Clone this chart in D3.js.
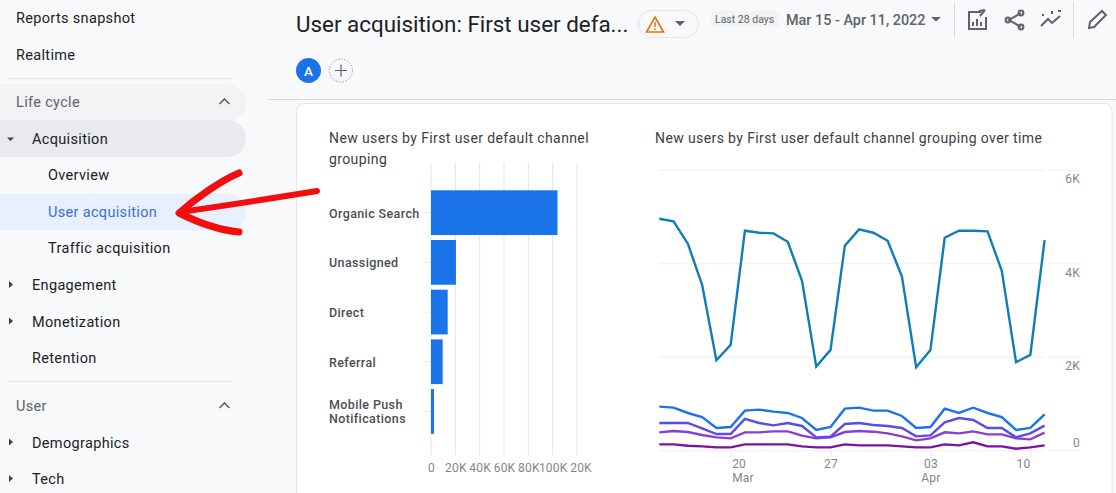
<!DOCTYPE html>
<html>
<head>
<meta charset="utf-8">
<script src="https://cdn.jsdelivr.net/npm/d3@7"></script>
<style>
  html, body { margin: 0; padding: 0; background: #f8f9fb; overflow: hidden; }
  svg { display: block; font-family: Roboto, sans-serif; }
  .nav { font-size: 14.5px; letter-spacing: 0.33px; fill: #202124; }
  .axis path { display: none; }
  .axis text { font-family: Roboto, sans-serif; font-size: 12px; fill: #80868b; letter-spacing: 0.2px; }
</style>
</head>
<body>
<svg id="chart" width="1116" height="493"></svg>
<script>
// BAR CHART DATA
var channels = ['Organic Search', 'Unassigned', 'Direct', 'Referral', 'Mobile Push Notifications'];
var newUsers = [104000, 20500, 13700, 9600, 2500];
var barTicks = [0, 20000, 40000, 60000, 80000, 100000, 120000];
var barTickLabels = ['0', '20K', '40K', '60K', '80K', '100K', '20K'];

// LINE CHART DATA
var days = ['Mar 15', 'Mar 16', 'Mar 17', 'Mar 18', 'Mar 19', 'Mar 20', 'Mar 21', 'Mar 22', 'Mar 23', 'Mar 24',
  'Mar 25', 'Mar 26', 'Mar 27', 'Mar 28', 'Mar 29', 'Mar 30', 'Mar 31', 'Apr 01', 'Apr 02', 'Apr 03',
  'Apr 04', 'Apr 05', 'Apr 06', 'Apr 07', 'Apr 08', 'Apr 09', 'Apr 10', 'Apr 11'];
var organicSearch = [4964, 4907, 4429, 3550, 1936, 2264, 4707, 4664, 4650, 4471, 3636, 1800, 2157, 4386, 4736, 4664, 4493, 3729, 1786, 2157, 4557, 4707, 4707, 4693, 3850, 1893, 2050, 4507];
var unassigned = [943, 921, 807, 721, 486, 507, 857, 879, 836, 807, 700, 443, 507, 900, 921, 857, 857, 743, 486, 507, 900, 807, 921, 807, 721, 443, 486, 779];
var direct = [593, 593, 593, 479, 357, 357, 679, 593, 543, 593, 529, 286, 300, 571, 593, 550, 529, 486, 307, 329, 607, 700, 657, 486, 486, 286, 371, 536];
var referral = [393, 421, 400, 336, 286, 264, 393, 393, 414, 414, 321, 264, 286, 400, 421, 407, 371, 307, 221, 264, 393, 371, 414, 350, 350, 264, 243, 386];
var mobilePush = [136, 136, 107, 93, 71, 71, 136, 136, 136, 136, 93, 71, 71, 136, 114, 114, 114, 93, 71, 71, 136, 114, 179, 93, 93, 43, 71, 114];
var lineSeries = [organicSearch, mobilePush, referral, direct, unassigned];
var lineColors = ['#0f7db8', '#7b139f', '#8b3fd0', '#5a4ce6', '#1a73e8'];
var lineTicks = [0, 2000, 4000, 6000];
var lineTickLabels = ['0', '2K', '4K', '6K'];
var dayTicks = ['Mar 20', 'Mar 27', 'Apr 03', 'Apr 10'];
var dayTickLabels = ['20', '27', '03', '10'];
var dayTickMonths = ['Mar', '', 'Apr', ''];
var dayTickAnchors = ['start', 'middle', 'middle', 'end'];

// SIDEBAR TEXT
var navItems = [
  { label: 'Reports snapshot', x: 16, y: 23 },
  { label: 'Realtime', x: 16, y: 59.5 },
  { label: 'Life cycle', x: 16, y: 107, fill: '#5f6368' },
  { label: 'Acquisition', x: 32, y: 143.5, caret: 'down' },
  { label: 'Overview', x: 48, y: 180 },
  { label: 'User acquisition', x: 48, y: 216.5, fill: '#3a6fd8' },
  { label: 'Traffic acquisition', x: 48, y: 253 },
  { label: 'Engagement', x: 32, y: 290, caret: 'right' },
  { label: 'Monetization', x: 32, y: 326.5, caret: 'right' },
  { label: 'Retention', x: 32, y: 363 },
  { label: 'User', x: 16, y: 411, fill: '#5f6368' },
  { label: 'Demographics', x: 32, y: 447.5, caret: 'right' },
  { label: 'Tech', x: 32, y: 484, caret: 'right' }
];

var svg = d3.select('#chart');

// -----------------------------------------------------------------------------
// PAGE FRAME

svg.append('line').attr('x1', 268).attr('x2', 1116).attr('y1', 99.5).attr('y2', 99.5).attr('stroke', '#d5d7da');
svg.append('rect').attr('x', 296.5).attr('y', 103.5).attr('width', 815.5).attr('height', 420).attr('rx', 8)
  .attr('fill', '#fff').attr('stroke', '#e3e5e8');

// sidebar pills
function pill(y, h, fill) {
  svg.append('path')
    .attr('d', 'M0,' + y + 'H228a18,' + (h / 2) + ' 0 0 1 0,' + h + 'H0Z')
    .attr('fill', fill);
}
pill(84, 37, '#f1f3f4');
pill(120, 37, '#e8eaed');
pill(194, 36, '#e8f0fe');

svg.selectAll('.divider').data([78, 381]).enter().append('line')
  .attr('x1', 7).attr('x2', 233).attr('y1', function (d) { return d + 0.5; }).attr('y2', function (d) { return d + 0.5; })
  .attr('stroke', '#e3e5e8');

svg.selectAll('.nav').data(navItems).enter().append('text')
  .attr('class', 'nav')
  .attr('x', function (d) { return d.x; })
  .attr('y', function (d) { return d.y; })
  .style('fill', function (d) { return d.fill || null; })
  .text(function (d) { return d.label; });

// little carets next to the nav items
navItems.forEach(function (d) {
  if (d.caret === 'down') {
    svg.append('path').attr('d', 'M7,' + (d.y - 6) + 'h7l-3.5,3.5z').attr('fill', '#3c4043');
  }
  if (d.caret === 'right') {
    svg.append('path').attr('d', 'M9,' + (d.y - 9) + 'l4,3.5l-4,3.5z').attr('fill', '#3c4043');
  }
});

// collapse chevrons
[102, 406].forEach(function (y) {
  svg.append('path').attr('d', 'M219.5,' + (y + 2) + 'l5,-5l5,5').attr('fill', 'none').attr('stroke', '#5f6368').attr('stroke-width', 1.6);
});

// -----------------------------------------------------------------------------
// HEADER

svg.append('text').attr('x', 296).attr('y', 32).attr('font-size', 22.4).attr('fill', '#202124')
  .text('User acquisition: First user defa...');

svg.append('rect').attr('x', 638.5).attr('y', 10.5).attr('width', 60).attr('height', 27).attr('rx', 13.5)
  .attr('fill', '#f8f9fb').attr('stroke', '#e3e5e8');
svg.append('path').attr('d', 'M655,17l8.5,15h-17z').attr('fill', 'none').attr('stroke', '#e8710a').attr('stroke-width', 1.6);
svg.append('path').attr('d', 'M655,22v5M655,28.5v1.6').attr('stroke', '#e8710a').attr('stroke-width', 1.5);
svg.append('path').attr('d', 'M675,21h10l-5,5z').attr('fill', '#5f6368');

svg.append('circle').attr('cx', 308.5).attr('cy', 70.5).attr('r', 12.5).attr('fill', '#1a73e8');
svg.append('text').attr('x', 308.5).attr('y', 75.5).attr('text-anchor', 'middle').attr('font-size', 13.5).attr('font-weight', 500).attr('fill', '#fff').text('A');
svg.append('circle').attr('cx', 341).attr('cy', 70.5).attr('r', 11.5).attr('fill', 'none').attr('stroke', '#9aa0a6').attr('stroke-dasharray', '1.5 1.5');
svg.append('path').attr('d', 'M335,70.5h12M341,64.5v12').attr('stroke', '#5f6368').attr('stroke-width', 1.2);

svg.append('rect').attr('x', 711).attr('y', 11).attr('width', 68).attr('height', 16).attr('fill', '#f1f3f4');
svg.append('text').attr('x', 715).attr('y', 23).attr('font-size', 10.5).attr('fill', '#5f6368').text('Last 28 days');
svg.append('text').attr('x', 786).attr('y', 24.5).attr('font-size', 14.4).attr('font-weight', 500).attr('fill', '#5f6368')
  .text('Mar 15 - Apr 11, 2022');
svg.append('path').attr('d', 'M931,17h10l-5,4.5z').attr('fill', '#5f6368');

svg.selectAll('.sep').data([954.5, 1073.5]).enter().append('line')
  .attr('x1', function (d) { return d; }).attr('x2', function (d) { return d; })
  .attr('y1', 2).attr('y2', 38).attr('stroke', '#dadce0');

var icons = svg.append('g').attr('fill', 'none').attr('stroke', '#5f6368').attr('stroke-width', 2);
icons.append('path').attr('d', 'M981,12h-12v17h17v-12M979,11l6,-1M985,10l-5,6');
icons.append('path').attr('d', 'M973,26v-4M977,26v-7M981,26v-4');
icons.append('path').attr('d', 'M1021,13l-12,7l12,7');
icons.selectAll('circle').data([[1021, 13], [1008, 20], [1021, 27]]).enter().append('circle')
  .attr('cx', function (d) { return d[0]; }).attr('cy', function (d) { return d[1]; }).attr('r', 2.4);
icons.append('path').attr('d', 'M1041,26l7,-7l4,4l8,-7');
icons.append('path').attr('d', 'M1052,14v-3M1058,11h3M1043,16v-2');
icons.append('path').attr('d', 'M1089,28l1,-6l12,-11l4,4l-12,12z');

// -----------------------------------------------------------------------------
// BAR CHART

var titleColor = '#3c4043';
[['New users by First user default channel', 329, 143], ['grouping', 329, 164], ['New users by First user default channel grouping over time', 655, 143]]
  .forEach(function (t) {
    svg.append('text').attr('x', t[1]).attr('y', t[2]).attr('font-size', 14).attr('letter-spacing', 0.39).attr('fill', titleColor).text(t[0]);
  });

var xBar = d3.scaleLinear().domain([0, 120000]).range([431, 577]);
var yBar = d3.scaleBand().domain(channels).range([187.8, 436.3]).paddingInner(0.1).paddingOuter(0.05);

svg.append('g').selectAll('line').data(barTicks).enter().append('line')
  .attr('x1', function (d) { return xBar(d); }).attr('x2', function (d) { return xBar(d); })
  .attr('y1', 163).attr('y2', 455)
  .attr('stroke', '#e3e5e8');

svg.append('g').selectAll('rect').data(newUsers).enter().append('rect')
  .attr('x', xBar(0))
  .attr('y', function (d, i) { return yBar(channels[i]); })
  .attr('width', function (d) { return xBar(d) - xBar(0); })
  .attr('height', yBar.bandwidth())
  .attr('fill', '#1a73e8');

// category ticks
svg.append('g').selectAll('line').data(channels).enter().append('line')
  .attr('x1', 424).attr('x2', 431)
  .attr('y1', function (d) { return yBar(d) + yBar.bandwidth() / 2; })
  .attr('y2', function (d) { return yBar(d) + yBar.bandwidth() / 2; })
  .attr('stroke', '#e8eaed');

svg.append('g').selectAll('text').data(channels).enter().append('text')
  .attr('x', 329)
  .attr('y', function (d) { return yBar(d) + yBar.bandwidth() / 2 + 5; })
  .attr('font-size', 12.5).attr('font-weight', 500).attr('letter-spacing', 0.38).attr('fill', '#4a4e52')
  .each(function (d) {
    // only the long label wraps
    if (d === 'Mobile Push Notifications') {
      d3.select(this).append('tspan').attr('x', 329).attr('dy', -7).text('Mobile Push');
      d3.select(this).append('tspan').attr('x', 329).attr('dy', 14).text('Notifications');
    } else {
      d3.select(this).text(d);
    }
  });

var xBarAxis = svg.append('g').attr('class', 'axis')
  .attr('transform', 'translate(0,455)')
  .call(d3.axisBottom(xBar).tickValues(barTicks).tickSize(0).tickPadding(8)
    .tickFormat(function (d, i) { return barTickLabels[i]; }));
// the last label is partly hidden in the original, what is left sits a bit right
xBarAxis.selectAll('.tick text').attr('dx', function (d, i) { return i === 6 ? 3.5 : 0; });

// -----------------------------------------------------------------------------
// LINE CHART

var xLine = d3.scalePoint().domain(days).range([659.3, 1044.6]);
var yLine = d3.scaleLinear().domain([0, 6000]).range([450.7, 170.3]);

var grid = svg.append('g').selectAll('g').data(lineTicks).enter().append('g');
grid.append('line').attr('x1', 659).attr('x2', 1044)
  .attr('y1', function (d) { return yLine(d); }).attr('y2', function (d) { return yLine(d); })
  .attr('stroke', '#eceef0');
grid.append('line').attr('x1', 1048).attr('x2', 1080)
  .attr('y1', function (d) { return yLine(d); }).attr('y2', function (d) { return yLine(d); })
  .attr('stroke', '#eceef0');

var yLineAxis = svg.append('g').attr('class', 'axis')
  .attr('transform', 'translate(1080,0)')
  .call(d3.axisLeft(yLine).tickValues(lineTicks).tickSize(0).tickPadding(0)
    .tickFormat(function (d, i) { return lineTickLabels[i]; }));
yLineAxis.selectAll('.tick text').attr('dy', function (d) { return d === 0 ? -4 : 12.5; });

var xLineAxis = svg.append('g').attr('class', 'axis')
  .attr('transform', 'translate(0,450.7)')
  .call(d3.axisBottom(xLine).tickValues(dayTicks).tickSize(6).tickPadding(3)
    .tickFormat(function (d, i) { return dayTickLabels[i]; }));
xLineAxis.selectAll('.tick line').attr('stroke', '#e8eaed');
xLineAxis.selectAll('.tick text').attr('text-anchor', function (d, i) { return dayTickAnchors[i]; })
  .attr('dx', function (d, i) { return i === 0 ? 1 : (i === 3 ? -0.5 : 0); });
xLineAxis.selectAll('.tick').append('text')
  .attr('y', 31).attr('text-anchor', function (d, i) { return dayTickAnchors[i]; })
  .attr('dx', function (d, i) { return i === 0 ? 1 : 0; })
  .text(function (d, i) { return dayTickMonths[i]; });

var line = d3.line()
  .x(function (d, i) { return xLine(days[i]); })
  .y(function (d) { return yLine(d); });

svg.append('g').selectAll('path').data(lineSeries).enter().append('path')
  .attr('d', line)
  .attr('fill', 'none')
  .attr('stroke', function (d, i) { return lineColors[i]; })
  .attr('stroke-width', 2.4);

// -----------------------------------------------------------------------------
// RED ARROW

var arrow = svg.append('g').attr('fill', 'none').attr('stroke', '#f40d0d').attr('stroke-linecap', 'round').attr('stroke-linejoin', 'round');
arrow.append('path').attr('d', 'M317,191C280,197 230,205 180,212').attr('stroke-width', 6);
arrow.append('path').attr('d', 'M239,173C222,180 196,198 179,213C195,221 218,230 239,232').attr('stroke-width', 7);
</script>
</body>
</html>
